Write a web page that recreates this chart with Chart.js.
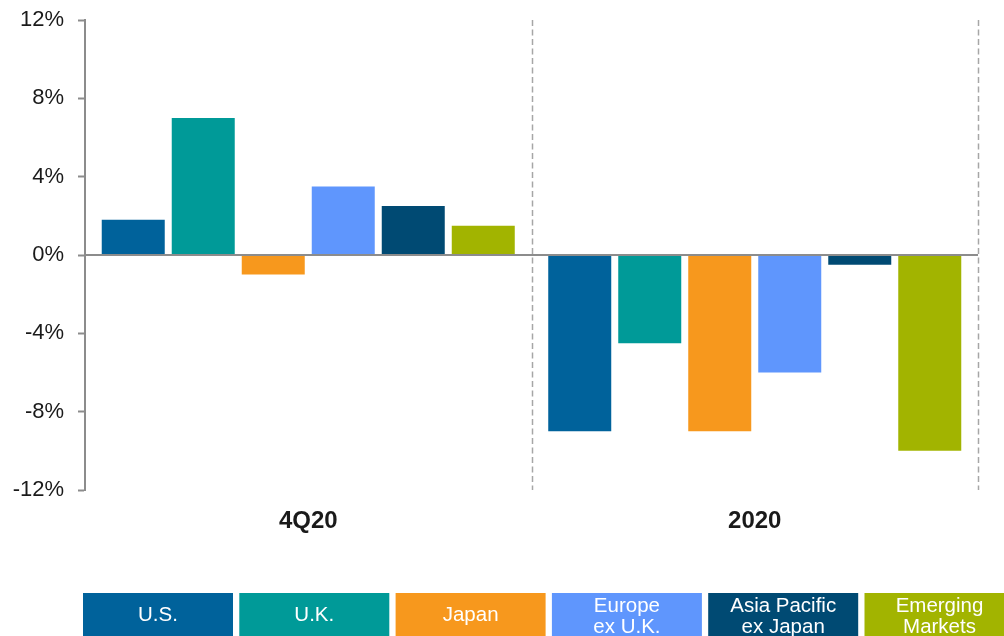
<!DOCTYPE html>
<html>
<head>
<meta charset="utf-8">
<script src="https://cdn.jsdelivr.net/npm/chart.js@4/dist/chart.umd.min.js"></script>
<style>
  html, body { margin: 0; padding: 0; background: #ffffff; }
  #wrap { width: 1004px; height: 636px; position: relative; }
</style>
</head>
<body>
<div id="wrap"><canvas id="c" width="1004" height="636"></canvas></div>
<script>
// Periods on the category axis
const periods = ['4Q20', '2020'];

// Regions (legend labels; arrays break onto two lines)
const regionLabels = [
  'U.S.',
  'U.K.',
  'Japan',
  ['Europe', 'ex U.K.'],
  ['Asia Pacific', 'ex Japan'],
  ['Emerging', 'Markets']
];

const regionColors = ['#00629b', '#009a98', '#f7981d', '#5f96fd', '#004a73', '#a2b400'];

// Returns in percent, one value per period
const usReturns     = [1.8, -9.0];
const ukReturns     = [7.0, -4.5];
const japanReturns  = [-1.0, -9.0];
const europeReturns = [3.5, -6.0];
const asiaReturns   = [2.5, -0.5];
const emReturns     = [1.5, -10.0];

// Value axis ticks
const yTicks = [-12, -8, -4, 0, 4, 8, 12];

const seriesValues = [usReturns, ukReturns, japanReturns, europeReturns, asiaReturns, emReturns];

const FONT = '"Liberation Sans", Arial, Helvetica, sans-serif';

// Dashed separators at the right edge of each period
const separators = {
  id: 'separators',
  beforeDatasetsDraw(chart) {
    const x = chart.scales.x;
    const area = chart.chartArea;
    const ctx = chart.ctx;
    const step = (x.right - x.left) / periods.length;
    ctx.save();
    ctx.strokeStyle = '#a6a6a6';
    ctx.lineWidth = 1.5;
    ctx.setLineDash([6, 3.5]);
    for (let i = 0; i < periods.length; i++) {
      const px = Math.round(x.getPixelForValue(i) + step / 2) + 0.5;
      ctx.beginPath();
      ctx.moveTo(px, area.top);
      ctx.lineTo(px, area.bottom);
      ctx.stroke();
    }
    ctx.restore();
  }
};

// Zero line drawn over the bars
const zeroLine = {
  id: 'zeroLine',
  afterDatasetsDraw(chart) {
    const y = chart.scales.y;
    const area = chart.chartArea;
    const ctx = chart.ctx;
    const py = y.getPixelForValue(0);
    ctx.save();
    ctx.strokeStyle = '#8c8c8c';
    ctx.lineWidth = 2;
    ctx.beginPath();
    ctx.moveTo(area.left, py);
    ctx.lineTo(area.right, py);
    ctx.stroke();
    ctx.restore();
  }
};

// Legend as a row of filled boxes with white captions
const boxLegend = {
  id: 'boxLegend',
  afterDraw(chart) {
    const ctx = chart.ctx;
    const left = 83, width = 150, gap = 6.3, top = 593, height = 46, mid = 615.5;
    ctx.save();
    ctx.font = '20.5px ' + FONT;
    ctx.textAlign = 'center';
    ctx.textBaseline = 'middle';
    chart.data.datasets.forEach((ds, i) => {
      const bx = left + i * (width + gap);
      ctx.fillStyle = ds.backgroundColor;
      ctx.fillRect(bx, top, width, height);
      ctx.fillStyle = '#ffffff';
      const lines = Array.isArray(ds.label) ? ds.label : [ds.label];
      const cx = bx + width / 2;
      if (lines.length === 1) {
        ctx.fillText(lines[0], cx, mid);
      } else {
        ctx.fillText(lines[0], cx, mid - 9.5);
        ctx.fillText(lines[1], cx, mid + 12);
      }
    });
    ctx.restore();
  }
};

const datasets = seriesValues.map((vals, i) => ({
  label: regionLabels[i],
  data: vals,
  backgroundColor: regionColors[i],
  borderWidth: 0,
  categoryPercentage: 0.9407,
  barPercentage: 0.9
}));

new Chart(document.getElementById('c'), {
  type: 'bar',
  data: { labels: periods, datasets },
  options: {
    responsive: false,
    animation: false,
    devicePixelRatio: 1,
    layout: { padding: { top: 20, right: 26, left: 0, bottom: 0 } },
    plugins: {
      legend: { display: false },
      tooltip: { enabled: false }
    },
    scales: {
      x: {
        grid: { display: false, drawTicks: false },
        border: { display: false },
        ticks: {
          padding: 17,
          color: '#1a1a1a',
          font: { family: FONT, size: 24, weight: 'bold' }
        },
        afterFit(scale) { scale.height = 146; }
      },
      y: {
        min: -12,
        max: 12,
        afterBuildTicks(scale) { scale.ticks = yTicks.map(v => ({ value: v })); },
        grid: {
          drawOnChartArea: false,
          drawTicks: true,
          tickLength: 7,
          tickColor: '#8c8c8c',
          tickWidth: 2
        },
        border: { display: true, color: '#8c8c8c', width: 2 },
        ticks: {
          padding: 14,
          color: '#1a1a1a',
          font: { family: FONT, size: 22 },
          callback: v => v + '%'
        },
        afterFit(scale) {
          scale.width = 85;
          scale.paddingTop = 0;
          scale.paddingBottom = 0;
        }
      }
    }
  },
  plugins: [separators, zeroLine, boxLegend]
});
</script>
</body>
</html>
